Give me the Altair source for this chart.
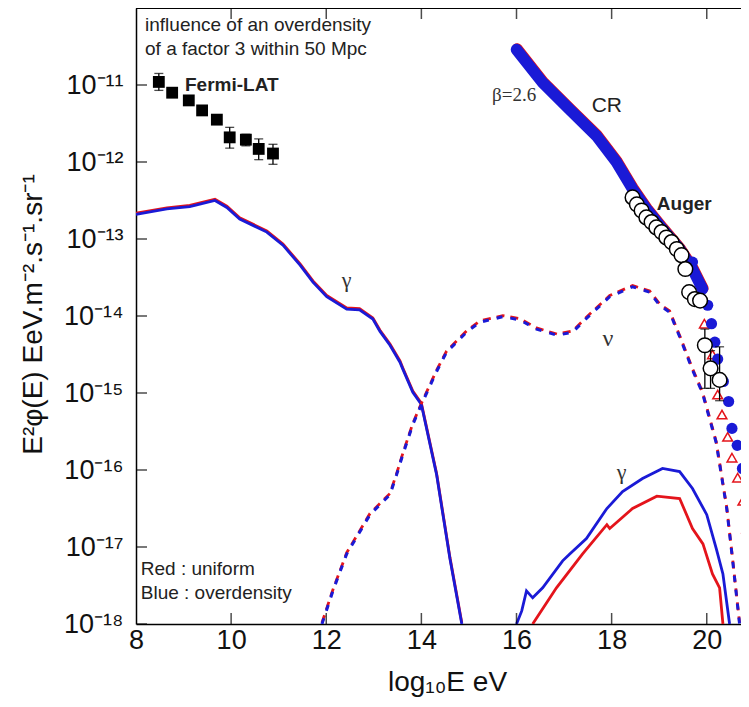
import altair as alt
import pandas as pd

# ---------------- data (x = log10 E [eV], values = log10 of E^2 phi) ----------------
# low-energy gamma cascade (red ~ blue)
gam_lo_x = [8.0, 8.65, 9.13, 9.66, 9.91, 10.18, 10.75, 11.09, 11.45, 11.72, 12.01, 12.43,
            12.70, 12.98, 13.13, 13.34, 13.55, 13.61, 13.82, 14.0, 14.32, 14.60, 14.85]
gam_lo_log = [-12.68, -12.61, -12.58, -12.50, -12.59, -12.74, -12.91, -13.08, -13.34, -13.56,
              -13.75, -13.91, -13.92, -14.04, -14.2, -14.38, -14.60, -14.69, -14.99, -15.15,
              -16.06, -17.15, -18.0]

# neutrinos (dashed)
nu_x = [11.91, 12.14, 12.43, 12.92, 13.34, 13.48, 13.61, 13.82, 14.0, 14.32, 14.53, 14.95,
        15.23, 15.71, 16.07, 16.42, 16.85, 17.18, 17.54, 17.96, 18.44, 18.80, 19.01, 19.22,
        19.45, 19.70, 19.91, 20.2, 20.42, 20.54, 20.69]
nu_log = [-18.0, -17.57, -17.09, -16.58, -16.32, -16.06, -15.80, -15.41, -15.15, -14.72, -14.47,
          -14.21, -14.08, -14.01, -14.05, -14.17, -14.25, -14.21, -13.99, -13.75, -13.62, -13.69,
          -13.86, -13.95, -14.3, -14.7, -15.0, -15.65, -16.5, -17.15, -18.0]

# high-energy gamma, overdensity (blue)
gam_hi_blue_x = [16.0, 16.11, 16.21, 16.34, 16.55, 16.97, 17.12, 17.47, 17.90, 18.23, 18.65,
                 19.07, 19.43, 19.70, 20.0, 20.2, 20.34, 20.48]
gam_hi_blue_log = [-18.0, -17.83, -17.57, -17.66, -17.53, -17.18, -17.09, -16.89, -16.50, -16.28,
                   -16.11, -15.98, -16.02, -16.24, -16.58, -17.02, -17.35, -18.0]
# high-energy gamma, uniform (red)
gam_hi_red_x = [16.34, 16.84, 17.39, 17.90, 17.96, 18.44, 18.95, 19.43, 19.70, 19.92, 20.12,
                20.27, 20.34]
gam_hi_red_log = [-18.0, -17.53, -17.09, -16.71, -16.76, -16.50, -16.34, -16.37, -16.76, -16.96,
                  -17.35, -17.53, -18.0]

# propagated cosmic rays (dense band)
cr_x = [16.0, 16.55, 17.12, 17.68, 18.1, 18.44, 18.73, 19.07, 19.43, 19.70, 19.91]
cr_log = [-10.54, -10.97, -11.32, -11.66, -12.0, -12.35, -12.61, -12.87, -13.13, -13.39, -13.65]
cr_blue_pts_x = [19.70, 19.89, 20.02, 20.1, 20.17, 20.23, 20.35, 20.46, 20.53, 20.64, 20.75, 20.86]
cr_blue_pts_log = [-13.30, -13.62, -13.86, -14.1, -14.34, -14.56, -14.85, -15.11, -15.46, -15.68,
                   -15.98, -16.25]
cr_red_pts_x = [19.95, 20.12, 20.23, 20.32, 20.44, 20.53, 20.65, 20.76, 20.84]
cr_red_pts_log = [-14.1, -14.5, -15.02, -15.28, -15.57, -15.84, -16.1, -16.4, -16.76]

# Auger data
auger_x = [18.44, 18.53, 18.63, 18.73, 18.84, 18.94, 19.05, 19.15, 19.26, 19.37, 19.47, 19.55,
           19.63, 19.75, 19.86, 19.96, 20.08, 20.27]
auger_log = [-12.46, -12.55, -12.63, -12.72, -12.78, -12.85, -12.91, -12.98, -13.04, -13.13,
             -13.21, -13.39, -13.69, -13.78, -13.80, -14.38, -14.68, -14.83]
auger_err_x = [19.96, 20.08, 20.27]
auger_err_hi = [-14.17, -14.45, -14.40]
auger_err_lo = [-14.94, -14.94, -15.10]

# Fermi-LAT data
fermi_x = [8.48, 8.76, 9.11, 9.39, 9.70, 9.97, 10.31, 10.58, 10.88]
fermi_log = [-10.96, -11.10, -11.20, -11.33, -11.45, -11.68, -11.71, -11.83, -11.89]
fermi_hi = [-10.85, -11.06, -11.16, -11.29, -11.41, -11.55, -11.64, -11.70, -11.77]
fermi_lo = [-11.07, -11.14, -11.24, -11.37, -11.49, -11.82, -11.79, -11.97, -12.03]

# tick values and labels
x_ticks = [8, 10, 12, 14, 16, 18, 20]
x_inner_ticks = [10, 12, 14, 16, 18, 20]
y_exps = [-18, -17, -16, -15, -14, -13, -12, -11]
y_labels = ["10⁻¹⁸", "10⁻¹⁷", "10⁻¹⁶", "10⁻¹⁵", "10⁻¹⁴", "10⁻¹³", "10⁻¹²", "10⁻¹¹"]

# annotations
sans_text = ["influence of an overdensity", "of a factor 3 within 50 Mpc", "CR",
             "Red : uniform", "Blue : overdensity"]
sans_x = [8.19, 8.19, 17.58, 8.10, 8.10]
sans_log = [-10.22, -10.53, -11.27, -17.29, -17.60]
sans_size = [19, 19, 21, 19, 19]
bold_text = ["Fermi-LAT", "Auger"]
bold_x = [9.03, 18.95]
bold_log = [-11.0, -12.55]
serif_text = ["β=2.6", "γ", "ν", "γ"]
serif_x = [15.95, 12.43, 17.92, 18.21]
serif_log = [-11.13, -13.53, -14.30, -16.02]
serif_size = [19, 22, 24, 22]

XMIN, XMAX = 8.0, 20.72
YMIN, YMAX = 1e-18, 1e-10


def frame(xs, logs, **extra):
    d = pd.DataFrame({"x": xs, "y": [10 ** v for v in logs]})
    for k, v in extra.items():
        d[k] = v
    return d


xs = alt.Scale(domain=[XMIN, XMAX], nice=False, zero=False)
ys = alt.Scale(type="log", domain=[YMIN, YMAX], nice=False)

label_expr = ""
for e, lab in zip(y_exps, y_labels):
    label_expr += f"round(log(datum.value)/LN10) == {e} ? '{lab}' : "
label_expr += "''"

X = alt.X("x:Q", scale=xs, axis=alt.Axis(
    values=x_ticks, title="log₁₀E eV", labelFontSize=27, labelPadding=3,
    titleFontSize=28, titleFont="Liberation Sans", titleFontWeight="normal",
    titleX=311, titleY=58, titleBaseline="middle", labelFlush=False))
Y = alt.Y("y:Q", scale=ys, axis=alt.Axis(
    values=[10.0 ** e for e in y_exps], labelExpr=label_expr, title="E²φ(E) EeV.m⁻².s⁻¹.sr⁻¹",
    labelFontSize=27, labelPadding=13, titleFontSize=28, titleFont="Liberation Sans",
    titleFontWeight="normal", titleX=-103, titleY=306, titleAngle=-90,
    titleBaseline="middle", titleAlign="center", labelFlush=False))

RED = "#e4141b"
BLUE = "#1a1ad6"


def line(df, color, width=2.8, dash=None, yoff=0):
    kw = dict(color=color, strokeWidth=width, clip=True, interpolate="linear")
    if dash:
        kw["strokeDash"] = dash
    if yoff:
        kw["yOffset"] = yoff
    return alt.Chart(df).mark_line(**kw).encode(x=X, y=Y)


gam_lo = frame(gam_lo_x, gam_lo_log)
nu = frame(nu_x, nu_log)
layers = [
    line(gam_lo, RED, yoff=-1.2),
    line(gam_lo, BLUE),
    line(nu, RED, dash=[8, 6], yoff=-1.2),
    line(nu, BLUE, dash=[6, 8], width=3),
    line(frame(gam_hi_red_x, gam_hi_red_log), RED),
    line(frame(gam_hi_blue_x, gam_hi_blue_log), BLUE),
]

cr = frame(cr_x, cr_log)
layers += [
    alt.Chart(cr).mark_line(color=RED, strokeWidth=11, strokeCap="round", clip=True,
                            yOffset=-0.8, xOffset=0.6).encode(x=X, y=Y),
    alt.Chart(cr).mark_line(color=BLUE, strokeWidth=11.5, strokeCap="round", clip=True)
    .encode(x=X, y=Y),
    alt.Chart(frame(cr_red_pts_x, cr_red_pts_log)).mark_point(
        shape="triangle-up", size=95, color=RED, fill="white", filled=False, strokeWidth=1.5,
        opacity=1, clip=True).encode(x=X, y=Y),
    alt.Chart(frame(cr_blue_pts_x, cr_blue_pts_log)).mark_circle(
        size=125, color=BLUE, opacity=1, clip=True).encode(x=X, y=Y),
]

# Auger
aerr = pd.DataFrame({"x": auger_err_x, "y": [10 ** v for v in auger_err_lo],
                     "y2": [10 ** v for v in auger_err_hi]})
layers += [
    alt.Chart(aerr).mark_rule(color="black", strokeWidth=1.3, clip=True)
    .encode(x=X, y=Y, y2="y2:Q"),
    alt.Chart(aerr).mark_tick(color="black", orient="horizontal", size=9, thickness=1.3,
                              clip=True).encode(x=X, y=Y),
    alt.Chart(aerr).mark_tick(color="black", orient="horizontal", size=9, thickness=1.3,
                              clip=True).encode(x=X, y=alt.Y("y2:Q", scale=ys)),
    alt.Chart(frame(auger_x, auger_log)).mark_point(
        shape="circle", size=215, color="black", fill="white", filled=False, strokeWidth=1.5,
        opacity=1, fillOpacity=1, clip=True).encode(x=X, y=Y),
]

# Fermi-LAT
ferr = pd.DataFrame({"x": fermi_x, "y": [10 ** v for v in fermi_lo],
                     "y2": [10 ** v for v in fermi_hi]})
layers += [
    alt.Chart(ferr).mark_rule(color="black", strokeWidth=1.3).encode(x=X, y=Y, y2="y2:Q"),
    alt.Chart(ferr).mark_tick(color="black", orient="horizontal", size=9, thickness=1.3)
    .encode(x=X, y=Y),
    alt.Chart(ferr).mark_tick(color="black", orient="horizontal", size=9, thickness=1.3)
    .encode(x=X, y=alt.Y("y2:Q", scale=ys)),
    alt.Chart(frame(fermi_x, fermi_log)).mark_square(size=140, color="black", opacity=1)
    .encode(x=X, y=Y),
]

# annotations
sans_df = frame(sans_x, sans_log, text=sans_text, size=sans_size)
bold_df = frame(bold_x, bold_log, text=bold_text)
serif_df = frame(serif_x, serif_log, text=serif_text, size=serif_size)
layers += [
    alt.Chart(sans_df).mark_text(align="left", baseline="middle", font="Liberation Sans",
                                 color="#222222").encode(
        x=X, y=Y, text="text:N", size=alt.Size("size:Q", scale=None, legend=None)),
    alt.Chart(bold_df).mark_text(align="left", baseline="middle", font="Liberation Sans",
                                 fontWeight="bold", fontSize=19, color="#222222")
    .encode(x=X, y=Y, text="text:N"),
    alt.Chart(serif_df).mark_text(align="center", baseline="middle", font="Liberation Serif",
                                  color="#333333").encode(
        x=X, y=Y, text="text:N", size=alt.Size("size:Q", scale=None, legend=None)),
]

# frame: top line and inward ticks
bottom_ticks = pd.DataFrame({"x": x_inner_ticks, "y": [YMIN] * len(x_inner_ticks)})
top_ticks = pd.DataFrame({"x": x_inner_ticks, "y": [YMAX] * len(x_inner_ticks)})
left_ticks = pd.DataFrame({"x": [XMIN] * len(y_exps), "y": [10.0 ** e for e in y_exps]})
layers += [
    alt.Chart(top_ticks).mark_rule(color="black", strokeWidth=1.5).encode(y=alt.value(0)),
    alt.Chart(bottom_ticks).mark_tick(color="black", orient="vertical", size=22,
                                      thickness=1.5, clip=True).encode(x=X, y=Y),
    alt.Chart(top_ticks).mark_tick(color="black", orient="vertical", size=22,
                                   thickness=1.5, clip=True).encode(x=X, y=Y),
    alt.Chart(left_ticks).mark_tick(color="black", orient="horizontal", size=22,
                                    thickness=1.5, clip=True).encode(x=X, y=Y),
]

chart = alt.layer(*layers).properties(
    width=605, height=616,
    autosize=alt.AutoSizeParams(type="none"),
    padding={"left": 128, "top": 0, "right": 0, "bottom": 80},
    background="white",
).configure_view(stroke=None).configure_axis(
    grid=False, ticks=False, domainColor="black", domainWidth=1.5,
    labelFont="Liberation Sans", labelColor="#111111", titleColor="#111111",
)

chart.save("out.html", embed_options={"renderer": "svg", "actions": False})
